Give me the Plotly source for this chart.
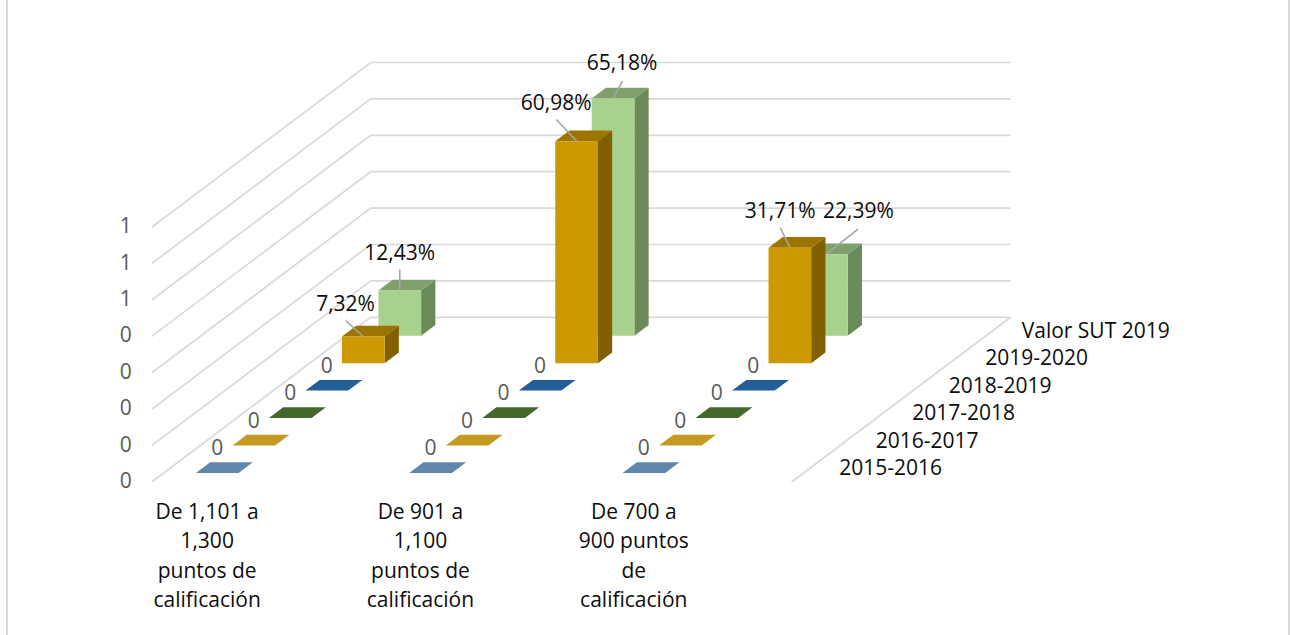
import plotly.graph_objects as go

# ---------- data ----------
categories = [
    ["De 1,101 a", "1,300", "puntos de", "calificación"],
    ["De 901 a", "1,100", "puntos de", "calificación"],
    ["De 700 a", "900 puntos", "de", "calificación"],
]
series_names = ["2015-2016", "2016-2017", "2017-2018", "2018-2019", "2019-2020", "Valor SUT 2019"]
val_2015_2016 = [0, 0, 0]
val_2016_2017 = [0, 0, 0]
val_2017_2018 = [0, 0, 0]
val_2018_2019 = [0, 0, 0]
val_2019_2020 = [0.0732, 0.6098, 0.3171]
val_sut_2019 = [0.1243, 0.6518, 0.2239]
series_values = [val_2015_2016, val_2016_2017, val_2017_2018, val_2018_2019, val_2019_2020, val_sut_2019]
value_ticks = [0, 0.1, 0.2, 0.3, 0.4, 0.5, 0.6, 0.7]
value_tick_labels = ["0", "0", "0", "0", "0", "1", "1", "1"]

# ---------- styles ----------
FONT = "Open Sans"
FS = 21
TEXT = "#0d0d0d"
GRAY = "#595959"
GRID = "#d9d9d9"
TEXT_DY = 1.8
# (front, top, side)
colors = [
    ("#5b9bd5", "#5F86AB", "#4a6d8f"),
    ("#ffc000", "#C49B22", "#a07f1a"),
    ("#548235", "#44672B", "#375423"),
    ("#2e75b6", "#245E96", "#1c4a76"),
    ("#CC9900", "#9C7500", "#806000"),
    ("#A9D18E", "#7F9F6B", "#6B8A5A"),
]
# label offsets from the top-front centre of each bar (series index, category index)
label_offsets = {
    (4, 0): ((-17.7, -16), (-17.7, -33)),
    (5, 0): ((0, -21), (0, -38)),
    (4, 1): ((-20.3, -21.7), (-20.3, -38.7)),
    (5, 1): ((9.4, -17.3), (9, -35)),
    (4, 2): ((-9.7, -20), (-9.7, -37)),
    (5, 2): ((31.7, -25), (32, -43)),
}

# ---------- oblique projection (category units, depth units, value) -> axis position ----------
X0, Y0 = 151.7, 482.0
CAT_W, DEPTH_X, DEPTH_Y, VAL_H = 213.3, 36.5, 27.45, 364.0
BAR_L, BAR_W = 0.151, 0.2
DEPTH_OFF, BAR_D = 0.33, 0.39
N_CAT, N_SER = len(categories), len(series_names)


def proj(c, d, v=0.0):
    return X0 + c * CAT_W + d * DEPTH_X, Y0 - d * DEPTH_Y - v * VAL_H


def poly(points, color):
    xs, ys = zip(*points)
    return go.Scatter(x=list(xs) + [xs[0]], y=list(ys) + [ys[0]], mode="lines", fill="toself",
                      fillcolor=color, line=dict(color=color, width=0), hoverinfo="skip", showlegend=False)


def line(points, color, width):
    xs, ys = zip(*points)
    return go.Scatter(x=list(xs), y=list(ys), mode="lines", line=dict(color=color, width=width),
                      hoverinfo="skip", showlegend=False)


def text(x, y, s, color, pos="middle center"):
    return go.Scatter(x=x, y=[v + TEXT_DY for v in y], text=s, mode="text", textposition=pos, cliponaxis=False,
                      textfont=dict(family=FONT, size=FS, color=color), hoverinfo="skip", showlegend=False)


fig = go.Figure()

# outer frame
fig.add_trace(line([(7, 0), (7, 635)], GRID, 2))
fig.add_trace(line([(1289, 0), (1289, 635)], GRID, 2))

# walls
for v in value_ticks:
    fig.add_trace(line([proj(0, 0, v), proj(0, N_SER, v), proj(N_CAT, N_SER, v)], GRID, 1.7))
fig.add_trace(line([proj(N_CAT, 0, 0), proj(N_CAT, N_SER, 0)], GRID, 1.7))

# bars, back to front
for s in reversed(range(N_SER)):
    front, top, side = colors[s]
    for c in range(N_CAT):
        v = series_values[s][c]
        l, r = c + BAR_L, c + BAR_L + BAR_W
        d0, d1 = s + DEPTH_OFF, s + DEPTH_OFF + BAR_D
        if v > 0:
            fig.add_trace(poly([proj(r, d0, 0), proj(r, d1, 0), proj(r, d1, v), proj(r, d0, v)], side))
        fig.add_trace(poly([proj(l, d0, v), proj(r, d0, v), proj(r, d1, v), proj(l, d1, v)], top))
        if v > 0:
            fig.add_trace(poly([proj(l, d0, 0), proj(r, d0, 0), proj(r, d0, v), proj(l, d0, v)], front))

# data labels
for s in range(N_SER):
    for c in range(N_CAT):
        v = series_values[s][c]
        ax, ay = proj(c + BAR_L + BAR_W / 2, s + DEPTH_OFF, v)
        if v > 0:
            (lx, ly), (tx, ty) = label_offsets[(s, c)]
            fig.add_trace(line([(ax, ay), (ax + lx, ay + ly)], "#a6a6a6", 1.6))
            label = f"{v * 100:.2f}%".replace(".", ",")
            fig.add_trace(text([ax + tx], [ay + ty], [label], TEXT))
        else:
            fig.add_trace(text([ax], [ay - 25], ["0"], GRAY))

# value axis labels
for v, lab in zip(value_ticks, value_tick_labels):
    x, y = proj(0, 0, v)
    fig.add_trace(text([x - 26], [y - 1], [lab], GRAY))

# category labels
for c, lines_ in enumerate(categories):
    x, y = proj(c + 0.26, 0, 0)
    for i, t in enumerate(lines_):
        fig.add_trace(text([x], [y + 30 + i * 29.3], [t], TEXT))

# series labels
for s, name in enumerate(series_names):
    x, y = proj(N_CAT, s, 0)
    fig.add_trace(text([x + 47.6], [y - 14], [name], TEXT, "middle right"))

fig.update_layout(
    width=1290, height=635, margin=dict(l=0, r=0, t=0, b=0),
    paper_bgcolor="white", plot_bgcolor="white", showlegend=False,
    xaxis=dict(range=[0, 1290], visible=False, fixedrange=True),
    yaxis=dict(range=[635, 0], visible=False, fixedrange=True),
)
fig.write_html("out.html", config={"displayModeBar": False},
               post_script="document.body.style.margin='0';document.body.style.overflow='hidden';")
